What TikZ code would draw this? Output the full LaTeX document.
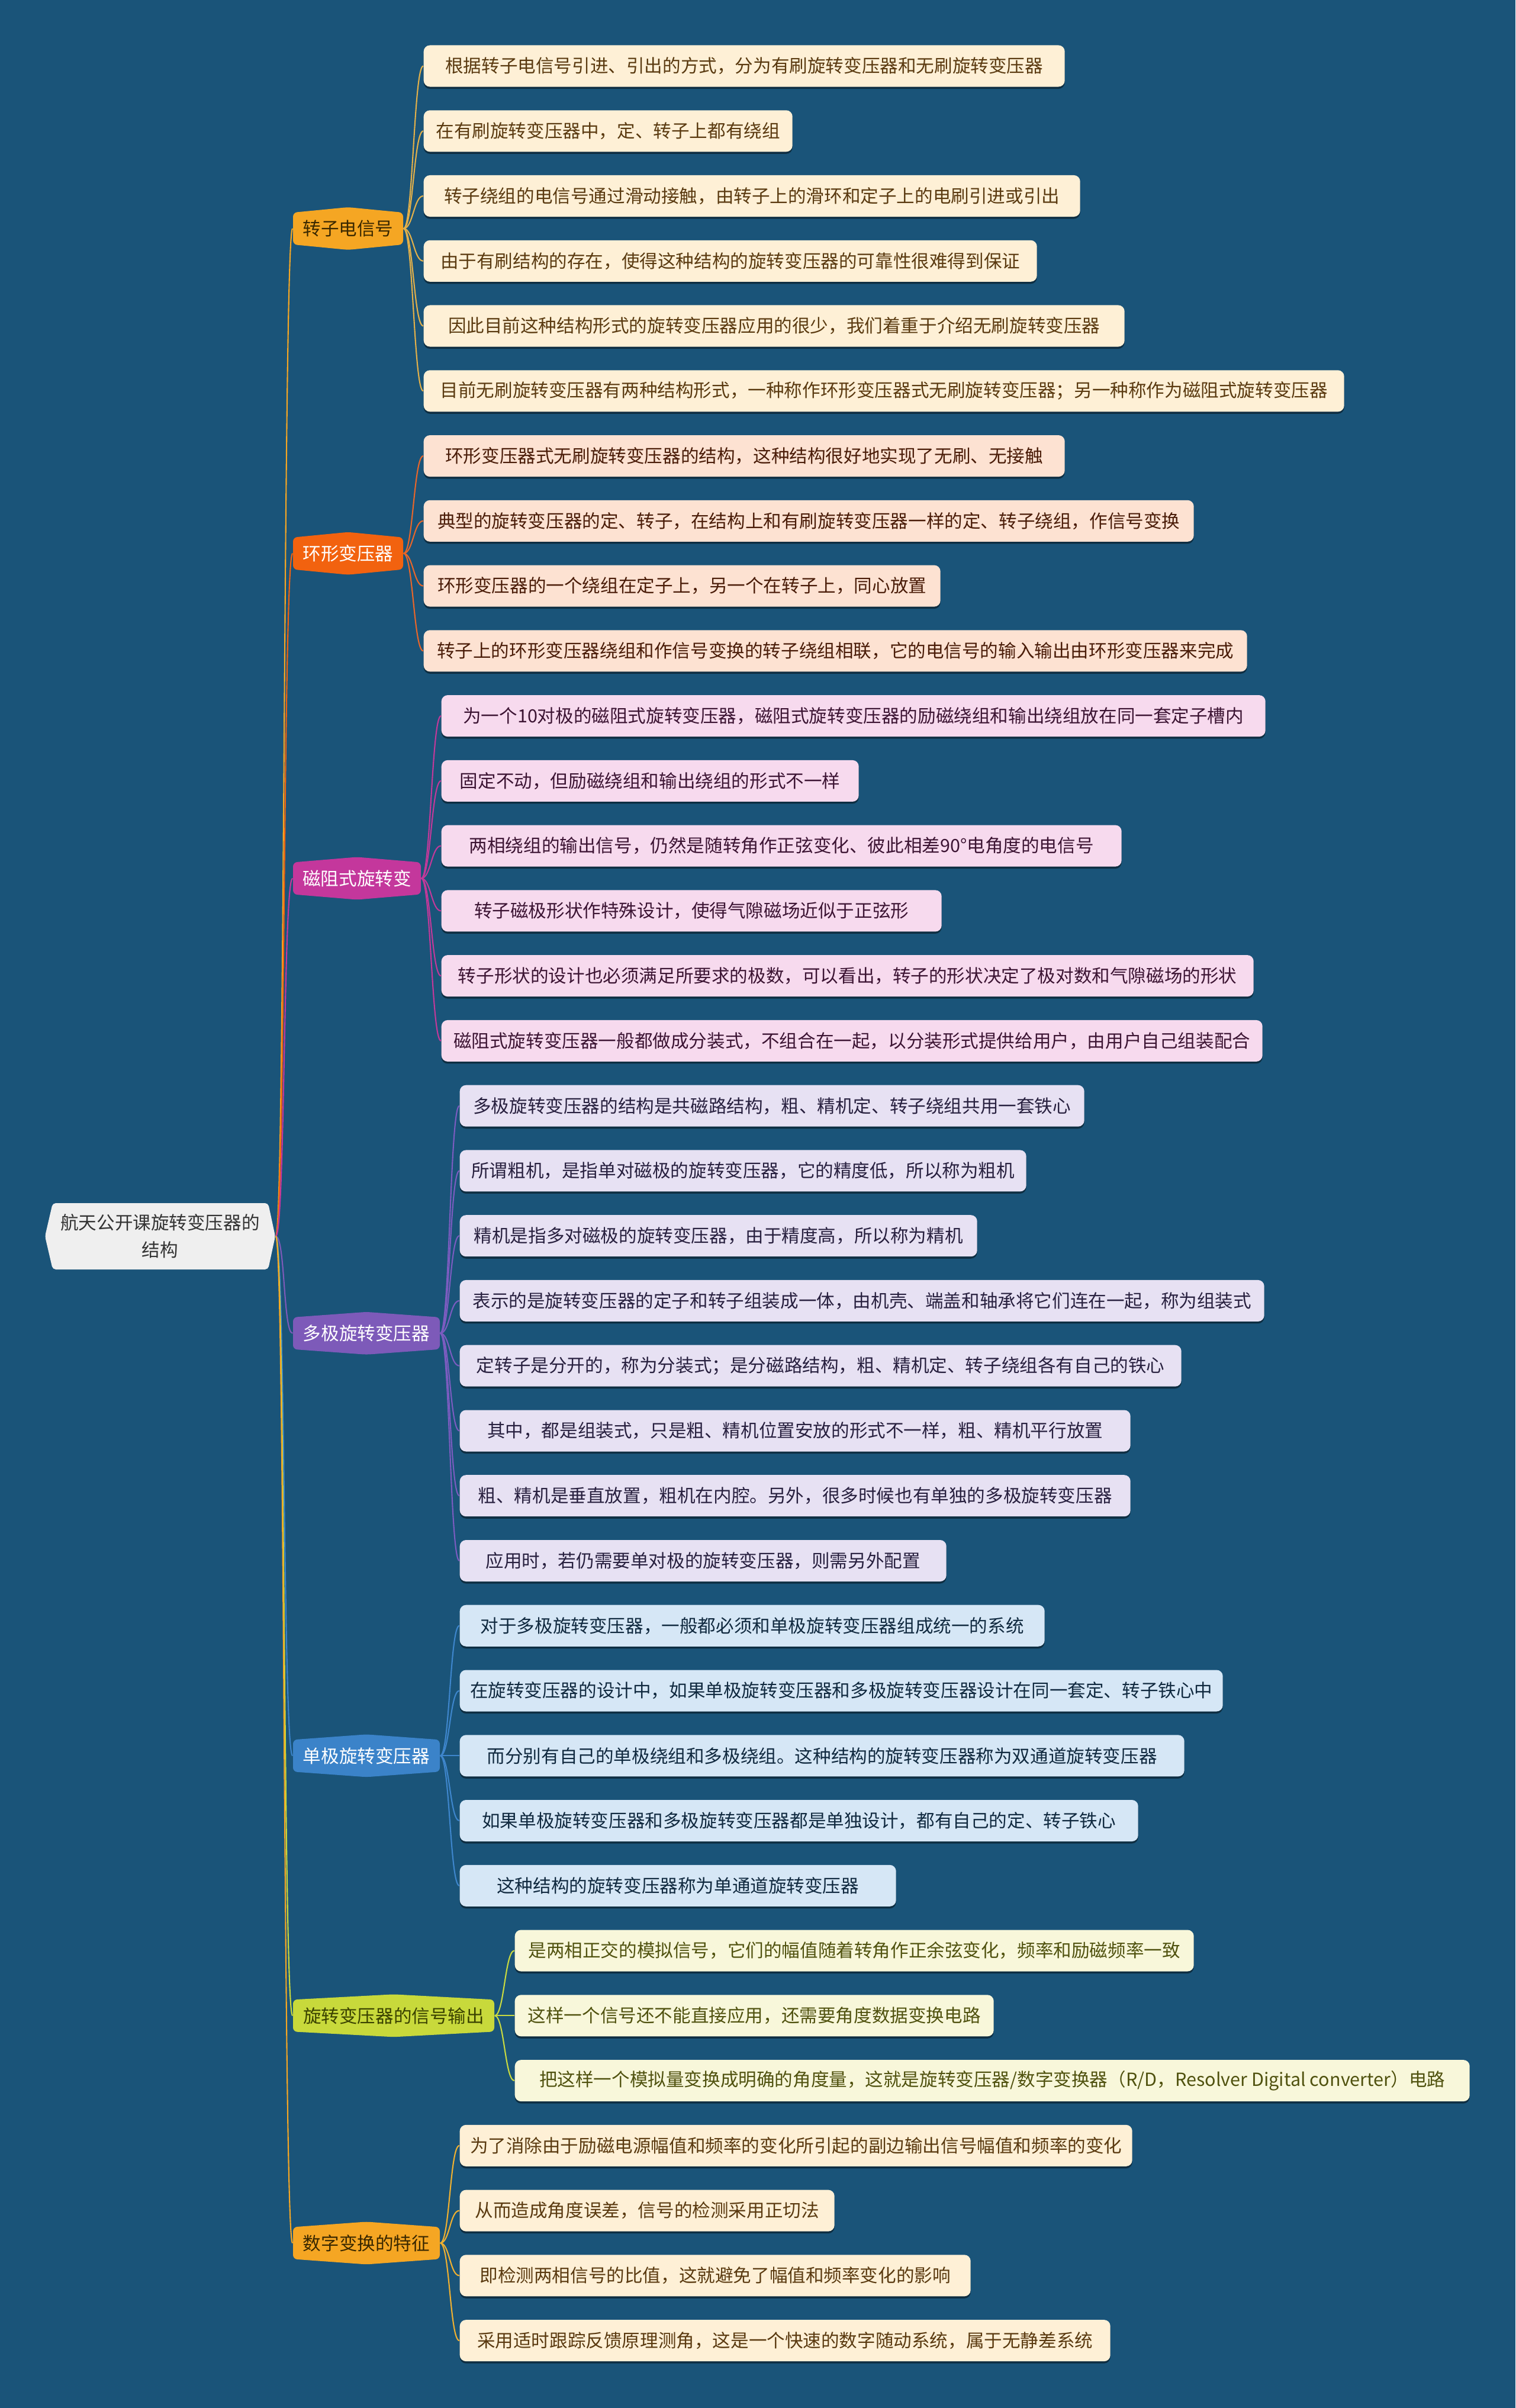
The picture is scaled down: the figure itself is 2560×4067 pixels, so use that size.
\documentclass[tikz,border=0pt]{standalone}
\usepackage{fontspec}
\setmainfont{Noto Sans CJK SC}
\usetikzlibrary{shadows}
\definecolor{bg}{HTML}{1A5479}
\definecolor{rootc}{HTML}{EFEFEF}
\definecolor{roott}{HTML}{333333}
\definecolor{b1}{HTML}{F5A623}\definecolor{bt1}{HTML}{3A2800}
\definecolor{b2}{HTML}{F2620F}
\definecolor{b3}{HTML}{C4379C}
\definecolor{b4}{HTML}{7D5AB9}
\definecolor{b5}{HTML}{3B83C9}
\definecolor{b6}{HTML}{C8D93B}\definecolor{bt6}{HTML}{3A4200}
\definecolor{b7}{HTML}{F5A623}
\definecolor{l1}{HTML}{FEF0D6}\definecolor{t1}{HTML}{5A3A10}\definecolor{c1}{HTML}{E2B04A}
\definecolor{l2}{HTML}{FDE2D2}\definecolor{t2}{HTML}{4A1C08}\definecolor{c2}{HTML}{E8662A}
\definecolor{l3}{HTML}{F7DAEE}\definecolor{t3}{HTML}{3C1433}\definecolor{c3}{HTML}{C2399A}
\definecolor{l4}{HTML}{E7E1F3}\definecolor{t4}{HTML}{28203F}\definecolor{c4}{HTML}{7B5CC0}
\definecolor{l5}{HTML}{D6E7F6}\definecolor{t5}{HTML}{10293F}\definecolor{c5}{HTML}{3E86CC}
\definecolor{l6}{HTML}{F8F7DA}\definecolor{t6}{HTML}{50520F}\definecolor{c6}{HTML}{C9DA40}
\definecolor{l7}{HTML}{FEF0D6}\definecolor{t7}{HTML}{5A3A10}\definecolor{c7}{HTML}{F0B030}
\newcommand\fs{\fontsize{8.7pt}{10.5pt}\selectfont}
\newcommand\lf[6]{\node[leafbox,#2,minimum width=#5*0.01cm] (#1) at (#3,#4) {#6};}
\newcommand\branch[7]{%
  \fill[#5, rounded corners=2pt] (#2,#3-27) -- ({#2+#4/2},#3-36) -- ({#2+#4},#3-27) -- ({#2+#4},#3+27) -- ({#2+#4/2},#3+36) -- (#2,#3+27) -- cycle;
  \node[font=\fs, text=#6, inner sep=0pt, minimum width=#4*0.01cm, minimum height=0.54cm] (#1) at ({#2+#4/2},#3) {#7};}
\newcommand\link[3]{\draw[conn,#3] (#1) .. controls +(16,0) and +(-16,0) .. (#2);}
\begin{document}
\begin{tikzpicture}[x=0.01cm,y=-0.01cm,
  leafbox/.style={rounded corners=3pt, inner sep=0pt, minimum height=0.70cm, anchor=west, font=\fs,
    drop shadow={shadow xshift=0pt, shadow yshift=-1pt, opacity=0.45, fill=black}},
  g1/.style={fill=l1, text=t1}, g2/.style={fill=l2, text=t2}, g3/.style={fill=l3, text=t3},
  g4/.style={fill=l4, text=t4}, g5/.style={fill=l5, text=t5}, g6/.style={fill=l6, text=t6},
  g7/.style={fill=l7, text=t7},
  conn/.style={line width=0.6pt}]
\useasboundingbox (0,0) rectangle (2560,4067);
\fill[bg] (0,0) rectangle (2560,4067);

% root
\fill[rootc, rounded corners=1.5pt] (89,2032) -- (453,2032) -- (465,2088) -- (453,2144) -- (89,2144) -- (76,2088) -- cycle;
\node[font=\fontsize{8.7pt}{13pt}\selectfont, align=center, text=roott, minimum width=3.89cm, minimum height=1.12cm, inner sep=0pt] (root) at (270.5,2088) {航天公开课旋转变压器的\\结构};

% branches
\branch{n1}{495}{386}{186}{b1}{bt1}{转子电信号}
\branch{n2}{495}{934.7}{186}{b2}{white}{环形变压器}
\branch{n3}{495}{1483.5}{216}{b3}{white}{磁阻式旋转变}
\branch{n4}{495}{2251.8}{248}{b4}{white}{多极旋转变压器}
\branch{n5}{495}{2965.3}{248}{b5}{white}{单极旋转变压器}
\branch{n6}{495}{3404.3}{340}{b6}{bt6}{旋转变压器的信号输出}
\branch{n7}{495}{3788.4}{248}{b7}{bt1}{数字变换的特征}

% group 1
\lf{a0}{g1}{715}{111.5}{1083}{根据转子电信号引进、引出的方式，分为有刷旋转变压器和无刷旋转变压器}
\lf{a1}{g1}{715}{221.3}{623}{在有刷旋转变压器中，定、转子上都有绕组}
\lf{a2}{g1}{715}{331.0}{1109}{转子绕组的电信号通过滑动接触，由转子上的滑环和定子上的电刷引进或引出}
\lf{a3}{g1}{715}{440.8}{1036}{由于有刷结构的存在，使得这种结构的旋转变压器的可靠性很难得到保证}
\lf{a4}{g1}{715}{550.5}{1184}{因此目前这种结构形式的旋转变压器应用的很少，我们着重于介绍无刷旋转变压器}
\lf{a5}{g1}{715}{660.3}{1555}{目前无刷旋转变压器有两种结构形式，一种称作环形变压器式无刷旋转变压器；另一种称作为磁阻式旋转变压器}
% group 2
\lf{a6}{g2}{715}{770.1}{1083}{环形变压器式无刷旋转变压器的结构，这种结构很好地实现了无刷、无接触}
\lf{a7}{g2}{715}{879.8}{1301}{典型的旋转变压器的定、转子，在结构上和有刷旋转变压器一样的定、转子绕组，作信号变换}
\lf{a8}{g2}{715}{989.6}{873}{环形变压器的一个绕组在定子上，另一个在转子上，同心放置}
\lf{a9}{g2}{715}{1099.3}{1391}{转子上的环形变压器绕组和作信号变换的转子绕组相联，它的电信号的输入输出由环形变压器来完成}
% group 3
\lf{a10}{g3}{745}{1209.1}{1392}{为一个10对极的磁阻式旋转变压器，磁阻式旋转变压器的励磁绕组和输出绕组放在同一套定子槽内}
\lf{a11}{g3}{745}{1318.9}{705}{固定不动，但励磁绕组和输出绕组的形式不一样}
\lf{a12}{g3}{745}{1428.6}{1149}{两相绕组的输出信号，仍然是随转角作正弦变化、彼此相差90°电角度的电信号}
\lf{a13}{g3}{745}{1538.4}{845}{转子磁极形状作特殊设计，使得气隙磁场近似于正弦形}
\lf{a14}{g3}{745}{1648.1}{1372}{转子形状的设计也必须满足所要求的极数，可以看出，转子的形状决定了极对数和气隙磁场的形状}
\lf{a15}{g3}{745}{1757.9}{1387}{磁阻式旋转变压器一般都做成分装式，不组合在一起，以分装形式提供给用户，由用户自己组装配合}
% group 4
\lf{a16}{g4}{776}{1867.7}{1055}{多极旋转变压器的结构是共磁路结构，粗、精机定、转子绕组共用一套铁心}
\lf{a17}{g4}{776}{1977.4}{957}{所谓粗机，是指单对磁极的旋转变压器，它的精度低，所以称为粗机}
\lf{a18}{g4}{776}{2087.2}{874}{精机是指多对磁极的旋转变压器，由于精度高，所以称为精机}
\lf{a19}{g4}{776}{2196.9}{1359}{表示的是旋转变压器的定子和转子组装成一体，由机壳、端盖和轴承将它们连在一起，称为组装式}
\lf{a20}{g4}{776}{2306.7}{1219}{定转子是分开的，称为分装式；是分磁路结构，粗、精机定、转子绕组各有自己的铁心}
\lf{a21}{g4}{776}{2416.5}{1133}{其中，都是组装式，只是粗、精机位置安放的形式不一样，粗、精机平行放置}
\lf{a22}{g4}{776}{2526.2}{1133}{粗、精机是垂直放置，粗机在内腔。另外，很多时候也有单独的多极旋转变压器}
\lf{a23}{g4}{776}{2636.0}{822}{应用时，若仍需要单对极的旋转变压器，则需另外配置}
% group 5
\lf{a24}{g5}{776}{2745.7}{988}{对于多极旋转变压器，一般都必须和单极旋转变压器组成统一的系统}
\lf{a25}{g5}{776}{2855.5}{1289}{在旋转变压器的设计中，如果单极旋转变压器和多极旋转变压器设计在同一套定、转子铁心中}
\lf{a26}{g5}{776}{2965.3}{1224}{而分别有自己的单极绕组和多极绕组。这种结构的旋转变压器称为双通道旋转变压器}
\lf{a27}{g5}{776}{3075.0}{1146}{如果单极旋转变压器和多极旋转变压器都是单独设计，都有自己的定、转子铁心}
\lf{a28}{g5}{776}{3184.8}{737}{这种结构的旋转变压器称为单通道旋转变压器}
% group 6
\lf{a29}{g6}{869}{3294.5}{1147}{是两相正交的模拟信号，它们的幅值随着转角作正余弦变化，频率和励磁频率一致}
\lf{a30}{g6}{869}{3404.3}{809}{这样一个信号还不能直接应用，还需要角度数据变换电路}
\lf{a31}{g6}{869}{3514.1}{1613}{把这样一个模拟量变换成明确的角度量，这就是旋转变压器/数字变换器（R/D，Resolver Digital converter）电路}
% group 7
\lf{a32}{g7}{776}{3623.8}{1136}{为了消除由于励磁电源幅值和频率的变化所引起的副边输出信号幅值和频率的变化}
\lf{a33}{g7}{776}{3733.6}{633}{从而造成角度误差，信号的检测采用正切法}
\lf{a34}{g7}{776}{3843.3}{863}{即检测两相信号的比值，这就避免了幅值和频率变化的影响}
\lf{a35}{g7}{776}{3953.1}{1099}{采用适时跟踪反馈原理测角，这是一个快速的数字随动系统，属于无静差系统}

% root links
\link{root.east}{n1.west}{b1}
\link{root.east}{n2.west}{b2}
\link{root.east}{n3.west}{b3}
\link{root.east}{n4.west}{b4}
\link{root.east}{n5.west}{b5}
\link{root.east}{n6.west}{b6}
\link{root.east}{n7.west}{b7}

% leaf links
\foreach \i in {0,...,5}{\link{n1.east}{a\i.west}{c1}}
\foreach \i in {6,...,9}{\link{n2.east}{a\i.west}{c2}}
\foreach \i in {10,...,15}{\link{n3.east}{a\i.west}{c3}}
\foreach \i in {16,...,23}{\link{n4.east}{a\i.west}{c4}}
\foreach \i in {24,...,28}{\link{n5.east}{a\i.west}{c5}}
\foreach \i in {29,...,31}{\link{n6.east}{a\i.west}{c6}}
\foreach \i in {32,...,35}{\link{n7.east}{a\i.west}{c7}}
\end{tikzpicture}
\end{document}
